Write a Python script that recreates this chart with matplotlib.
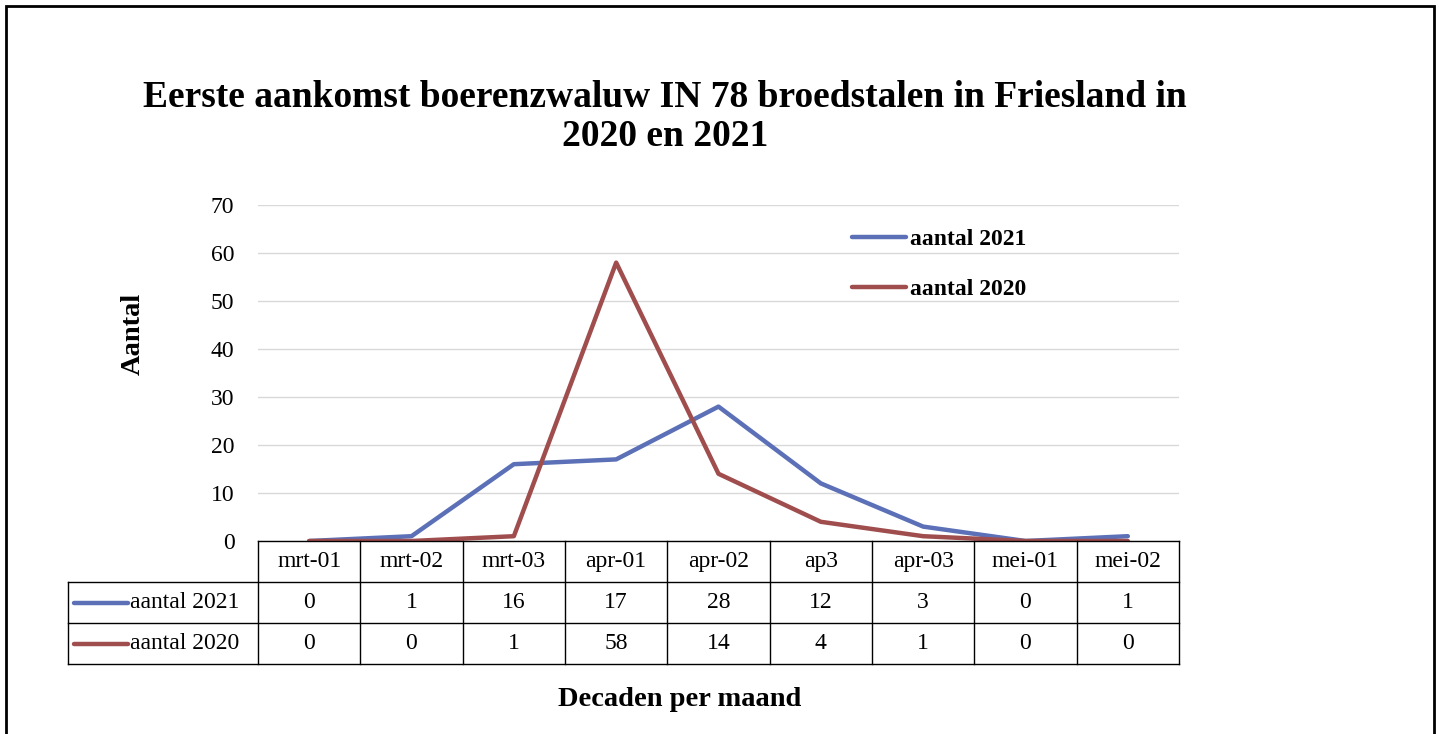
import matplotlib.pyplot as plt
from matplotlib.patches import Rectangle
from matplotlib.lines import Line2D
from matplotlib.transforms import blended_transform_factory

plt.rcParams['font.family'] = ['Liberation Serif', 'DejaVu Serif']

# Data
decades = ['mrt-01', 'mrt-02', 'mrt-03', 'apr-01', 'apr-02', 'ap3', 'apr-03', 'mei-01', 'mei-02']
aantal_2021 = [0, 1, 16, 17, 28, 12, 3, 0, 1]
aantal_2020 = [0, 0, 1, 58, 14, 4, 1, 0, 0]
series_names = ['aantal 2021', 'aantal 2020']
series_colors = ['#5B70B6', '#A04D4E']

W, H = 1439, 734
fig = plt.figure(figsize=(W / 100, H / 100), dpi=100)
ax = fig.add_axes([258 / W, 1 - 541 / H, (1179 - 258) / W, (541 - 205) / H])

fs = 17
x = range(len(decades))
for vals, name, col in zip([aantal_2021, aantal_2020], series_names, series_colors):
    ax.plot(x, vals, color=col, lw=3.2, label=name, solid_capstyle='round')

ax.set_xlim(-0.5, len(decades) - 0.5)
ax.set_ylim(0, 70)
ax.set_yticks(range(0, 71, 10))
ax.tick_params(axis='y', length=0, labelsize=fs, pad=17)
ax.set_xticks([])
ax.grid(axis='y', color='#d9d9d9', lw=1)
ax.set_axisbelow(True)
for s in ['top', 'right', 'left']:
    ax.spines[s].set_visible(False)
ax.spines['bottom'].set_color('black')
ax.spines['bottom'].set_linewidth(1)

ax.legend(loc='upper left', bbox_to_anchor=((852 - 258) / 921, 0.93), frameon=False,
          prop={'weight': 'bold', 'size': fs}, handlelength=2.3, borderpad=0, borderaxespad=0,
          handletextpad=0.15, labelspacing=1.2)

# Table below the axes
ax_h = 541 - 205
ax_w = 1179 - 258
row_h = 41 / ax_h
tr = blended_transform_factory(ax.transData, ax.transAxes)
left_edge = (68 - 258) / ax_w
lk = dict(color='black', lw=1, clip_on=False)

# horizontal lines
for i in range(1, 4):
    y = -i * row_h
    ax.plot([left_edge, 1], [y, y], transform=ax.transAxes, **lk)
# vertical lines at column boundaries
for j in range(len(decades) + 1):
    ax.plot([j - 0.5, j - 0.5], [0, -3 * row_h], transform=tr, **lk)
ax.plot([left_edge, left_edge], [-row_h, -3 * row_h], transform=ax.transAxes, **lk)

# header labels
for j, d in enumerate(decades):
    ax.text(j, -0.5 * row_h, d, transform=tr, ha='center', va='center', fontsize=fs)

# rows
for r, (vals, name, col) in enumerate(zip([aantal_2021, aantal_2020], series_names, series_colors)):
    yc = -(r + 1.5) * row_h
    for j, v in enumerate(vals):
        ax.text(j, yc, str(v), transform=tr, ha='center', va='center', fontsize=fs)
    ax.add_line(Line2D([(74 - 258) / ax_w, (128 - 258) / ax_w], [yc, yc], color=col, lw=3.2,
                       solid_capstyle='round', transform=ax.transAxes, clip_on=False))
    ax.text((130 - 258) / ax_w, yc, name, transform=ax.transAxes, ha='left', va='center', fontsize=fs)

# titles and labels
fig.text(665 / W, 1 - 117 / H, 'Eerste aankomst boerenzwaluw IN 78 broedstalen in Friesland in\n2020 en 2021',
         ha='center', va='center', fontsize=27, fontweight='bold', linespacing=1.15)
fig.text(133 / W, 1 - 334 / H, 'Aantal', rotation=90, ha='center', va='center', fontsize=20.5, fontweight='bold')
fig.text(680 / W, 1 - 699 / H, 'Decaden per maand', ha='center', va='center', fontsize=20.5, fontweight='bold')

# outer border
fig.patches.append(Rectangle((6 / W, -0.05), (1434 - 6) / W, 1 - 6 / H + 0.05,
                             transform=fig.transFigure, fill=False, ec='black', lw=2))

fig.savefig('out.png', dpi=100)
